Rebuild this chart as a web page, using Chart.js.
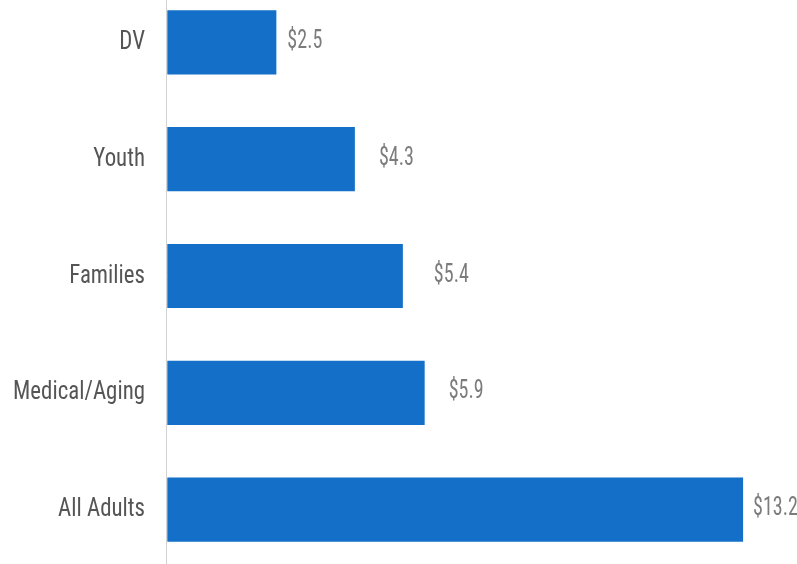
<!DOCTYPE html>
<html>
<head>
<meta charset="utf-8">
<script src="https://cdn.jsdelivr.net/npm/chart.js@4"></script>
<style>
  html, body { margin: 0; padding: 0; background: #fff; overflow: hidden; }
  body { width: 797px; height: 564px; position: relative; }
  #wrap { position: absolute; left: 0; top: -16px; width: 797px; height: 584px; }
</style>
</head>
<body>
<div id="wrap"><canvas id="cost-chart"></canvas></div>
<script>
const categories = ['DV', 'Youth', 'Families', 'Medical/Aging', 'All Adults'];
const costs = [2.5, 4.3, 5.4, 5.9, 13.2];

// space between each bar end and its value label (px)
const labelGaps = [11, 24, 31, 24, 10];

const labelFont = "'Roboto Condensed', 'Liberation Sans Narrow', 'Arial Narrow', Roboto, sans-serif";

// draws text squeezed horizontally around its anchor point
function narrowText(ctx, text, x, y, squeeze) {
  ctx.save();
  ctx.translate(x, y);
  ctx.scale(squeeze, 1);
  ctx.fillText(text, 0, 0);
  ctx.restore();
}

// category names left of the axis, "$x.x" past the end of each bar
const barLabels = {
  id: 'barLabels',
  afterDatasetsDraw(chart) {
    const ctx = chart.ctx;
    const yScale = chart.scales.y;
    const meta = chart.getDatasetMeta(0);
    ctx.save();
    ctx.font = '26px ' + labelFont;
    ctx.textBaseline = 'middle';

    ctx.fillStyle = '#555555';
    ctx.textAlign = 'right';
    categories.forEach((name, i) => {
      narrowText(ctx, name, yScale.right - 21, yScale.getPixelForValue(i), 0.88);
    });

    ctx.fillStyle = '#7c7c7c';
    ctx.textAlign = 'left';
    meta.data.forEach((bar, i) => {
      narrowText(ctx, '$' + costs[i].toFixed(1), bar.x + labelGaps[i], bar.y - 1, 0.77);
    });
    ctx.restore();
  }
};

const ctx = document.getElementById('cost-chart');
const myChart = new Chart(ctx, {
  type: 'bar',
  data: {
    labels: categories,
    datasets: [{
      data: costs,
      backgroundColor: '#136fc7',
      borderWidth: 0,
      barPercentage: 0.55,
      categoryPercentage: 1
    }]
  },
  options: {
    indexAxis: 'y',
    responsive: true,
    maintainAspectRatio: false,
    animation: false,
    layout: {
      autoPadding: false,
      padding: { left: 0, right: 19, top: 0, bottom: 0 }
    },
    plugins: {
      legend: { display: false },
      tooltip: { enabled: false }
    },
    scales: {
      x: {
        display: false,
        min: -0.03,
        max: 14
      },
      y: {
        afterFit(scale) {
          scale.width = 166;
          scale.paddingTop = 0;
          scale.paddingBottom = 0;
        },
        grid: { display: false, drawTicks: false },
        border: { display: true, color: '#d2d2d2', width: 1 },
        ticks: { display: false }
      }
    }
  },
  plugins: [barLabels]
});
</script>
</body>
</html>
